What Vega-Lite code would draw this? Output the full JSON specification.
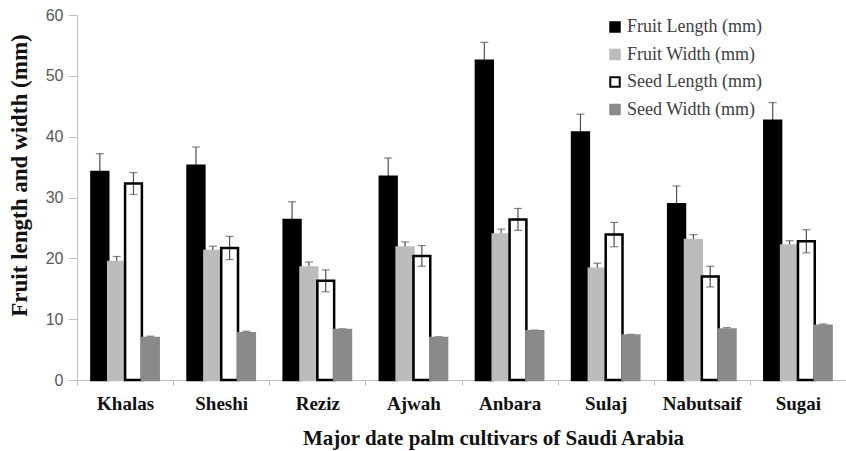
{
  "$schema": "https://vega.github.io/schema/vega-lite/v6.json",
  "width": 769,
  "height": 365,
  "autosize": {"type": "none"},
  "padding": {"left": 77, "top": 15, "right": 0, "bottom": 71},
  "background": "white",
  "data": {"values": [
    {"cultivar": "Khalas", "series": "Fruit Length (mm)", "value": 34.2, "lo": 31.2, "hi": 37.2},
    {"cultivar": "Khalas", "series": "Fruit Width (mm)", "value": 19.4, "lo": 18.5, "hi": 20.3},
    {"cultivar": "Khalas", "series": "Seed Length (mm)", "value": 32.3, "lo": 30.5, "hi": 34.1},
    {"cultivar": "Khalas", "series": "Seed Width (mm)", "value": 6.9, "lo": 6.6, "hi": 7.2},
    {"cultivar": "Sheshi", "series": "Fruit Length (mm)", "value": 35.2, "lo": 32.1, "hi": 38.3},
    {"cultivar": "Sheshi", "series": "Fruit Width (mm)", "value": 21.2, "lo": 20.4, "hi": 22.0},
    {"cultivar": "Sheshi", "series": "Seed Length (mm)", "value": 21.7, "lo": 19.8, "hi": 23.6},
    {"cultivar": "Sheshi", "series": "Seed Width (mm)", "value": 7.7, "lo": 7.4, "hi": 8.0},
    {"cultivar": "Reziz", "series": "Fruit Length (mm)", "value": 26.3, "lo": 23.3, "hi": 29.3},
    {"cultivar": "Reziz", "series": "Fruit Width (mm)", "value": 18.5, "lo": 17.6, "hi": 19.4},
    {"cultivar": "Reziz", "series": "Seed Length (mm)", "value": 16.3, "lo": 14.5, "hi": 18.1},
    {"cultivar": "Reziz", "series": "Seed Width (mm)", "value": 8.2, "lo": 8.0, "hi": 8.4},
    {"cultivar": "Ajwah", "series": "Fruit Length (mm)", "value": 33.4, "lo": 30.3, "hi": 36.5},
    {"cultivar": "Ajwah", "series": "Fruit Width (mm)", "value": 21.8, "lo": 20.9, "hi": 22.7},
    {"cultivar": "Ajwah", "series": "Seed Length (mm)", "value": 20.4, "lo": 18.7, "hi": 22.1},
    {"cultivar": "Ajwah", "series": "Seed Width (mm)", "value": 6.9, "lo": 6.7, "hi": 7.1},
    {"cultivar": "Anbara", "series": "Fruit Length (mm)", "value": 52.5, "lo": 49.5, "hi": 55.5},
    {"cultivar": "Anbara", "series": "Fruit Width (mm)", "value": 23.9, "lo": 23.0, "hi": 24.8},
    {"cultivar": "Anbara", "series": "Seed Length (mm)", "value": 26.4, "lo": 24.6, "hi": 28.2},
    {"cultivar": "Anbara", "series": "Seed Width (mm)", "value": 8.0, "lo": 7.8, "hi": 8.2},
    {"cultivar": "Sulaj", "series": "Fruit Length (mm)", "value": 40.7, "lo": 37.7, "hi": 43.7},
    {"cultivar": "Sulaj", "series": "Fruit Width (mm)", "value": 18.3, "lo": 17.4, "hi": 19.2},
    {"cultivar": "Sulaj", "series": "Seed Length (mm)", "value": 23.9, "lo": 21.9, "hi": 25.9},
    {"cultivar": "Sulaj", "series": "Seed Width (mm)", "value": 7.3, "lo": 7.1, "hi": 7.5},
    {"cultivar": "Nabutsaif", "series": "Fruit Length (mm)", "value": 28.9, "lo": 25.9, "hi": 31.9},
    {"cultivar": "Nabutsaif", "series": "Fruit Width (mm)", "value": 23.0, "lo": 22.1, "hi": 23.9},
    {"cultivar": "Nabutsaif", "series": "Seed Length (mm)", "value": 17.0, "lo": 15.3, "hi": 18.7},
    {"cultivar": "Nabutsaif", "series": "Seed Width (mm)", "value": 8.3, "lo": 8.0, "hi": 8.6},
    {"cultivar": "Sugai", "series": "Fruit Length (mm)", "value": 42.6, "lo": 39.6, "hi": 45.6},
    {"cultivar": "Sugai", "series": "Fruit Width (mm)", "value": 22.1, "lo": 21.3, "hi": 22.9},
    {"cultivar": "Sugai", "series": "Seed Length (mm)", "value": 22.8, "lo": 20.9, "hi": 24.7},
    {"cultivar": "Sugai", "series": "Seed Width (mm)", "value": 8.9, "lo": 8.6, "hi": 9.2}
  ]},
  "encoding": {
    "x": {
      "field": "cultivar", "type": "nominal", "sort": null,
      "scale": {"paddingInner": 0.3, "paddingOuter": 0.15},
      "axis": {
        "title": "Major date palm cultivars of Saudi Arabia",
        "labelAngle": 0,
        "labelFont": "Liberation Serif", "labelFontWeight": "bold", "labelFontSize": 19, "labelColor": "#111111",
        "labelBaseline": "middle", "labelPadding": 18,
        "tickOffset": -48, "labelOffset": 48, "tickSize": 5,
        "tickColor": "#bfbfbf", "domainColor": "#bfbfbf",
        "titleFont": "Liberation Serif", "titleFontWeight": "bold", "titleFontSize": 21, "titleColor": "#111111",
        "titleX": 416, "titleY": 58, "titleBaseline": "middle", "titleAnchor": "middle"
      }
    },
    "xOffset": {"field": "series", "type": "nominal", "sort": null, "scale": {"paddingInner": 0, "paddingOuter": 0}}
  },
  "layer": [
    {
      "mark": {"type": "rule", "color": "#505050", "strokeWidth": 1.2},
      "encoding": {
        "y": {
          "field": "lo", "type": "quantitative",
          "scale": {"domain": [0, 60], "nice": false},
          "axis": {
            "title": "Fruit length and width (mm)",
            "values": [0, 10, 20, 30, 40, 50, 60],
            "grid": false,
            "domainColor": "#bfbfbf", "tickColor": "#bfbfbf", "tickSize": 9,
            "labelFont": "Liberation Sans", "labelFontSize": 16, "labelColor": "#595959", "labelPadding": 5,
            "titleFont": "Liberation Serif", "titleFontWeight": "bold", "titleFontSize": 23, "titleColor": "#111111",
            "titleX": -58, "titleY": 160, "titleAnchor": "middle", "titleBaseline": "middle"
          }
        },
        "y2": {"field": "hi"}
      }
    },
    {
      "mark": {"type": "tick", "color": "#505050", "thickness": 1.2, "size": 8},
      "encoding": {"y": {"field": "lo", "type": "quantitative"}}
    },
    {
      "mark": {"type": "tick", "color": "#505050", "thickness": 1.2, "size": 8},
      "encoding": {"y": {"field": "hi", "type": "quantitative"}}
    },
    {
      "mark": {"type": "bar", "strokeWidth": 2.5},
      "encoding": {
        "y": {"field": "value", "type": "quantitative"},
        "fill": {
          "field": "series", "type": "nominal", "sort": null,
          "scale": {"domain": ["Fruit Length (mm)", "Fruit Width (mm)", "Seed Length (mm)", "Seed Width (mm)"], "range": ["#000000", "#bcbcbc", "rgba(255,255,255,0)", "#8a8a8a"]},
          "legend": {"title": null}
        },
        "stroke": {
          "field": "series", "type": "nominal", "sort": null,
          "scale": {"domain": ["Fruit Length (mm)", "Fruit Width (mm)", "Seed Length (mm)", "Seed Width (mm)"], "range": ["#000000", "#bcbcbc", "#000000", "#8a8a8a"]},
          "legend": {"title": null}
        }
      }
    }
  ],
  "config": {
    "view": {"stroke": null},
    "legend": {
      "orient": "none", "legendX": 529, "legendY": 3,
      "padding": 0, "symbolType": "square", "symbolSize": 90, "symbolStrokeWidth": 2,
      "labelFont": "Liberation Serif", "labelFontSize": 18, "labelColor": "#404040",
      "labelOffset": 3, "rowPadding": 9.5
    }
  }
}
